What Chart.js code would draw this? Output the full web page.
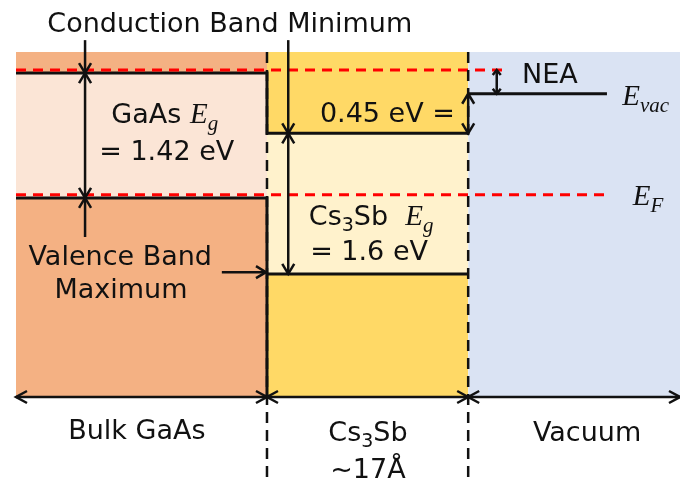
<!DOCTYPE html>
<html>
<head>
<meta charset="utf-8">
<script src="https://cdn.jsdelivr.net/npm/chart.js@4/dist/chart.umd.min.js"></script>
<style>
  html, body { margin: 0; padding: 0; background: #ffffff; }
  #wrap { width: 680px; height: 484px; }
</style>
</head>
<body>
<div id="wrap"><canvas id="c" width="680" height="484"></canvas></div>
<script>
// Position axis (arbitrary units 0-100): layer boundaries
const layerNames = ['Bulk GaAs', 'Cs3Sb', 'Vacuum'];
const layerStart = [0, 37.8, 68.1];
const layerEnd = [37.8, 68.1, 100];

// Energy levels in eV, referenced to the Fermi level
const fermiLevel = 0;
const gaasVBM = -0.035;
const gaasGap = 1.42;
const cs3sbCBM = 0.70;
const cs3sbGap = 1.6;
const evacAboveCBM = 0.45;
const cbmMarker = 1.42;          // red dashed marker of the GaAs conduction band edge
const energyRange = [-2.3, 1.625];

// Horizontal extent of the reference lines
const cbmMarkerEnd = 73.3;
const fermiEnd = 89.2;
const evacEnd = 89.0;

// Derived levels
const gaasCBM = gaasVBM + gaasGap;
const cs3sbVBM = cs3sbCBM - cs3sbGap;
const evac = cs3sbCBM + evacAboveCBM;

const C = {
  gaasBand: '#F4B183', gaasGapFill: '#FBE5D6',
  csBand: '#FFD966', csGapFill: '#FFF2CC',
  vacuum: '#DAE3F3', red: '#FF0000', ink: '#111111'
};

const yMin = energyRange[0], yMax = energyRange[1];

// filled band regions sit underneath every line (higher order = drawn first)
function rect(x0, x1, y0, y1, color) {
  return {
    data: [{x: x0, y: y1}, {x: x1, y: y1}],
    fill: {value: y0}, backgroundColor: color,
    borderWidth: 0, pointRadius: 0, order: 10
  };
}
function line(pts, color, width, dash, order) {
  return {
    data: pts.map(p => ({x: p[0], y: p[1]})),
    fill: false, borderColor: color, borderWidth: width,
    borderDash: dash || [], pointRadius: 0, tension: 0,
    borderCapStyle: 'butt', borderJoinStyle: 'miter', order: order
  };
}

const datasets = [
  // GaAs layer
  rect(layerStart[0], layerEnd[0], gaasCBM, yMax, C.gaasBand),
  rect(layerStart[0], layerEnd[0], gaasVBM, gaasCBM, C.gaasGapFill),
  rect(layerStart[0], layerEnd[0], yMin, gaasVBM, C.gaasBand),
  // Cs3Sb layer
  rect(layerStart[1], layerEnd[1], cs3sbCBM, yMax, C.csBand),
  rect(layerStart[1], layerEnd[1], cs3sbVBM, cs3sbCBM, C.csGapFill),
  rect(layerStart[1], layerEnd[1], yMin, cs3sbVBM, C.csBand),
  // Vacuum
  rect(layerStart[2], layerEnd[2], yMin, yMax, C.vacuum),
  // band edges
  line([[layerStart[0], gaasCBM], [layerEnd[0], gaasCBM], [layerEnd[0], cs3sbCBM], [layerEnd[1], cs3sbCBM]], C.ink, 3, null, 5),
  line([[layerStart[0], gaasVBM], [layerEnd[0], gaasVBM], [layerEnd[0], yMin]], C.ink, 3, null, 5),
  line([[layerStart[1], cs3sbVBM], [layerEnd[1], cs3sbVBM]], C.ink, 3, null, 5),
  line([[layerStart[2], evac], [evacEnd, evac]], C.ink, 3, null, 5),
  // reference levels (drawn above the band edges)
  line([[layerStart[0], cbmMarker], [cbmMarkerEnd, cbmMarker]], C.red, 3, [10, 7], 1),
  line([[layerStart[0], fermiLevel], [fermiEnd, fermiLevel]], C.red, 3, [10, 7], 1)
];

// ---- annotation helpers ----
function arrowHead(ctx, x, y, ang, len, half) {
  ctx.beginPath();
  ctx.moveTo(x - len * Math.cos(ang) + half * Math.sin(ang), y - len * Math.sin(ang) - half * Math.cos(ang));
  ctx.lineTo(x, y);
  ctx.lineTo(x - len * Math.cos(ang) - half * Math.sin(ang), y - len * Math.sin(ang) + half * Math.cos(ang));
  ctx.stroke();
}
function arrow(ctx, x1, y1, x2, y2, o) {
  o = Object.assign({start: false, end: true, len: 10, half: 6, width: 2.5}, o || {});
  ctx.save();
  ctx.strokeStyle = C.ink; ctx.lineWidth = o.width; ctx.setLineDash([]);
  ctx.lineCap = 'butt'; ctx.lineJoin = 'miter';
  ctx.beginPath(); ctx.moveTo(x1, y1); ctx.lineTo(x2, y2); ctx.stroke();
  const ang = Math.atan2(y2 - y1, x2 - x1);
  if (o.end) arrowHead(ctx, x2, y2, ang, o.len, o.half);
  if (o.start) arrowHead(ctx, x1, y1, ang + Math.PI, o.len, o.half);
  ctx.restore();
}
const SANS = '27px "DejaVu Sans"';
const SANS_SUB = '19px "DejaVu Sans"';
const MATH = 'italic 29px "Liberation Serif"';
const MATH_SUB = 'italic 21px "Liberation Serif"';
function runs(ctx, x, y, parts, align) {
  ctx.save();
  ctx.fillStyle = C.ink; ctx.textBaseline = 'alphabetic'; ctx.textAlign = 'left';
  let w = 0;
  parts.forEach(p => { ctx.font = p.f; w += ctx.measureText(p.t).width; });
  let cx = align === 'center' ? x - w / 2 : align === 'right' ? x - w : x;
  parts.forEach(p => {
    ctx.font = p.f; ctx.fillText(p.t, cx, y + (p.dy || 0));
    cx += ctx.measureText(p.t).width;
  });
  ctx.restore();
}

const annotations = {
  id: 'bandAnnotations',
  afterDatasetsDraw(chart) {
    const ctx = chart.ctx, xs = chart.scales.x, ys = chart.scales.y;
    const X = v => xs.getPixelForValue(v), Y = v => ys.getPixelForValue(v);
    const area = chart.chartArea;

    // layer interfaces
    [layerEnd[0], layerEnd[1]].forEach(b => {
      ctx.save();
      ctx.strokeStyle = C.ink; ctx.lineWidth = 2.5; ctx.setLineDash([11, 7]);
      ctx.beginPath(); ctx.moveTo(X(b), area.top); ctx.lineTo(X(b), 481); ctx.stroke();
      ctx.restore();
    });

    // layer width arrows along the bottom
    for (let i = 0; i < layerNames.length; i++) {
      arrow(ctx, X(layerStart[i]), Y(yMin), X(layerEnd[i]), Y(yMin), {start: true, len: 11, half: 6});
    }

    const topY = Y(1.76);
    // conduction band minimum pointers
    arrow(ctx, X(10.4), topY, X(10.4), Y(gaasCBM));
    arrow(ctx, X(41.0), topY, X(41.0), Y(cs3sbCBM));
    // band gaps
    arrow(ctx, X(10.4), Y(gaasCBM), X(10.4), Y(gaasVBM), {start: true});
    arrow(ctx, X(41.0), Y(cs3sbCBM), X(41.0), Y(cs3sbVBM), {start: true});
    // valence band maximum pointers
    arrow(ctx, X(10.4), Y(-0.48), X(10.4), Y(gaasVBM));
    arrow(ctx, X(31.0), Y(-0.88), X(layerEnd[0]) - 1, Y(-0.88));
    // vacuum level offsets
    arrow(ctx, X(layerEnd[1]), Y(evac), X(layerEnd[1]), Y(cs3sbCBM), {start: true});
    arrow(ctx, X(72.4), Y(cbmMarker), X(72.4), Y(evac), {start: true, len: 5, half: 4, width: 2.5});

    // text
    runs(ctx, X(32.2), Y(1.852), [{t: 'Conduction Band Minimum', f: SANS}], 'center');
    runs(ctx, X(22.4), Y(0.817), [{t: 'GaAs ', f: SANS}, {t: 'E', f: MATH}, {t: 'g', f: MATH_SUB, dy: 7}], 'center');
    runs(ctx, X(22.7), Y(0.396), [{t: '= 1.42 eV', f: SANS}], 'center');
    runs(ctx, X(66.1), Y(0.828), [{t: '0.45 eV =', f: SANS}], 'right');
    runs(ctx, X(76.2), Y(1.272), [{t: 'NEA', f: SANS}], 'left');
    runs(ctx, X(91.3), Y(1.022), [{t: 'E', f: MATH}, {t: 'vac', f: MATH_SUB, dy: 7}], 'left');
    runs(ctx, X(92.9), Y(-0.116), [{t: 'E', f: MATH}, {t: 'F', f: MATH_SUB, dy: 7}], 'left');
    runs(ctx, X(44.1), Y(-0.344), [{t: 'Cs', f: SANS}, {t: '3', f: SANS_SUB, dy: 6}, {t: 'Sb  ', f: SANS},
      {t: 'E', f: MATH}, {t: 'g', f: MATH_SUB, dy: 7}], 'left');
    runs(ctx, X(44.3), Y(-0.742), [{t: '= 1.6 eV', f: SANS}], 'left');
    runs(ctx, X(15.7), Y(-0.799), [{t: 'Valence Band', f: SANS}], 'center');
    runs(ctx, X(15.8), Y(-1.174), [{t: 'Maximum', f: SANS}], 'center');

    runs(ctx, X(18.2), Y(-2.778), [{t: 'Bulk GaAs', f: SANS}], 'center');
    runs(ctx, X(53.0), Y(-2.80), [{t: 'Cs', f: SANS}, {t: '3', f: SANS_SUB, dy: 6}, {t: 'Sb', f: SANS}], 'center');
    runs(ctx, X(53.0), Y(-3.22), [{t: '~17Å', f: SANS}], 'center');
    runs(ctx, X(86.0), Y(-2.80), [{t: 'Vacuum', f: SANS}], 'center');
  }
};

new Chart(document.getElementById('c'), {
  type: 'line',
  data: {datasets},
  options: {
    responsive: false, animation: false, events: [],
    layout: {padding: {left: 16, right: 0, top: 52, bottom: 87}},
    scales: {
      x: {type: 'linear', min: 0, max: 100, display: false},
      y: {type: 'linear', min: yMin, max: yMax, display: false}
    },
    plugins: {legend: {display: false}, tooltip: {enabled: false}}
  },
  plugins: [annotations]
});
</script>
</body>
</html>
